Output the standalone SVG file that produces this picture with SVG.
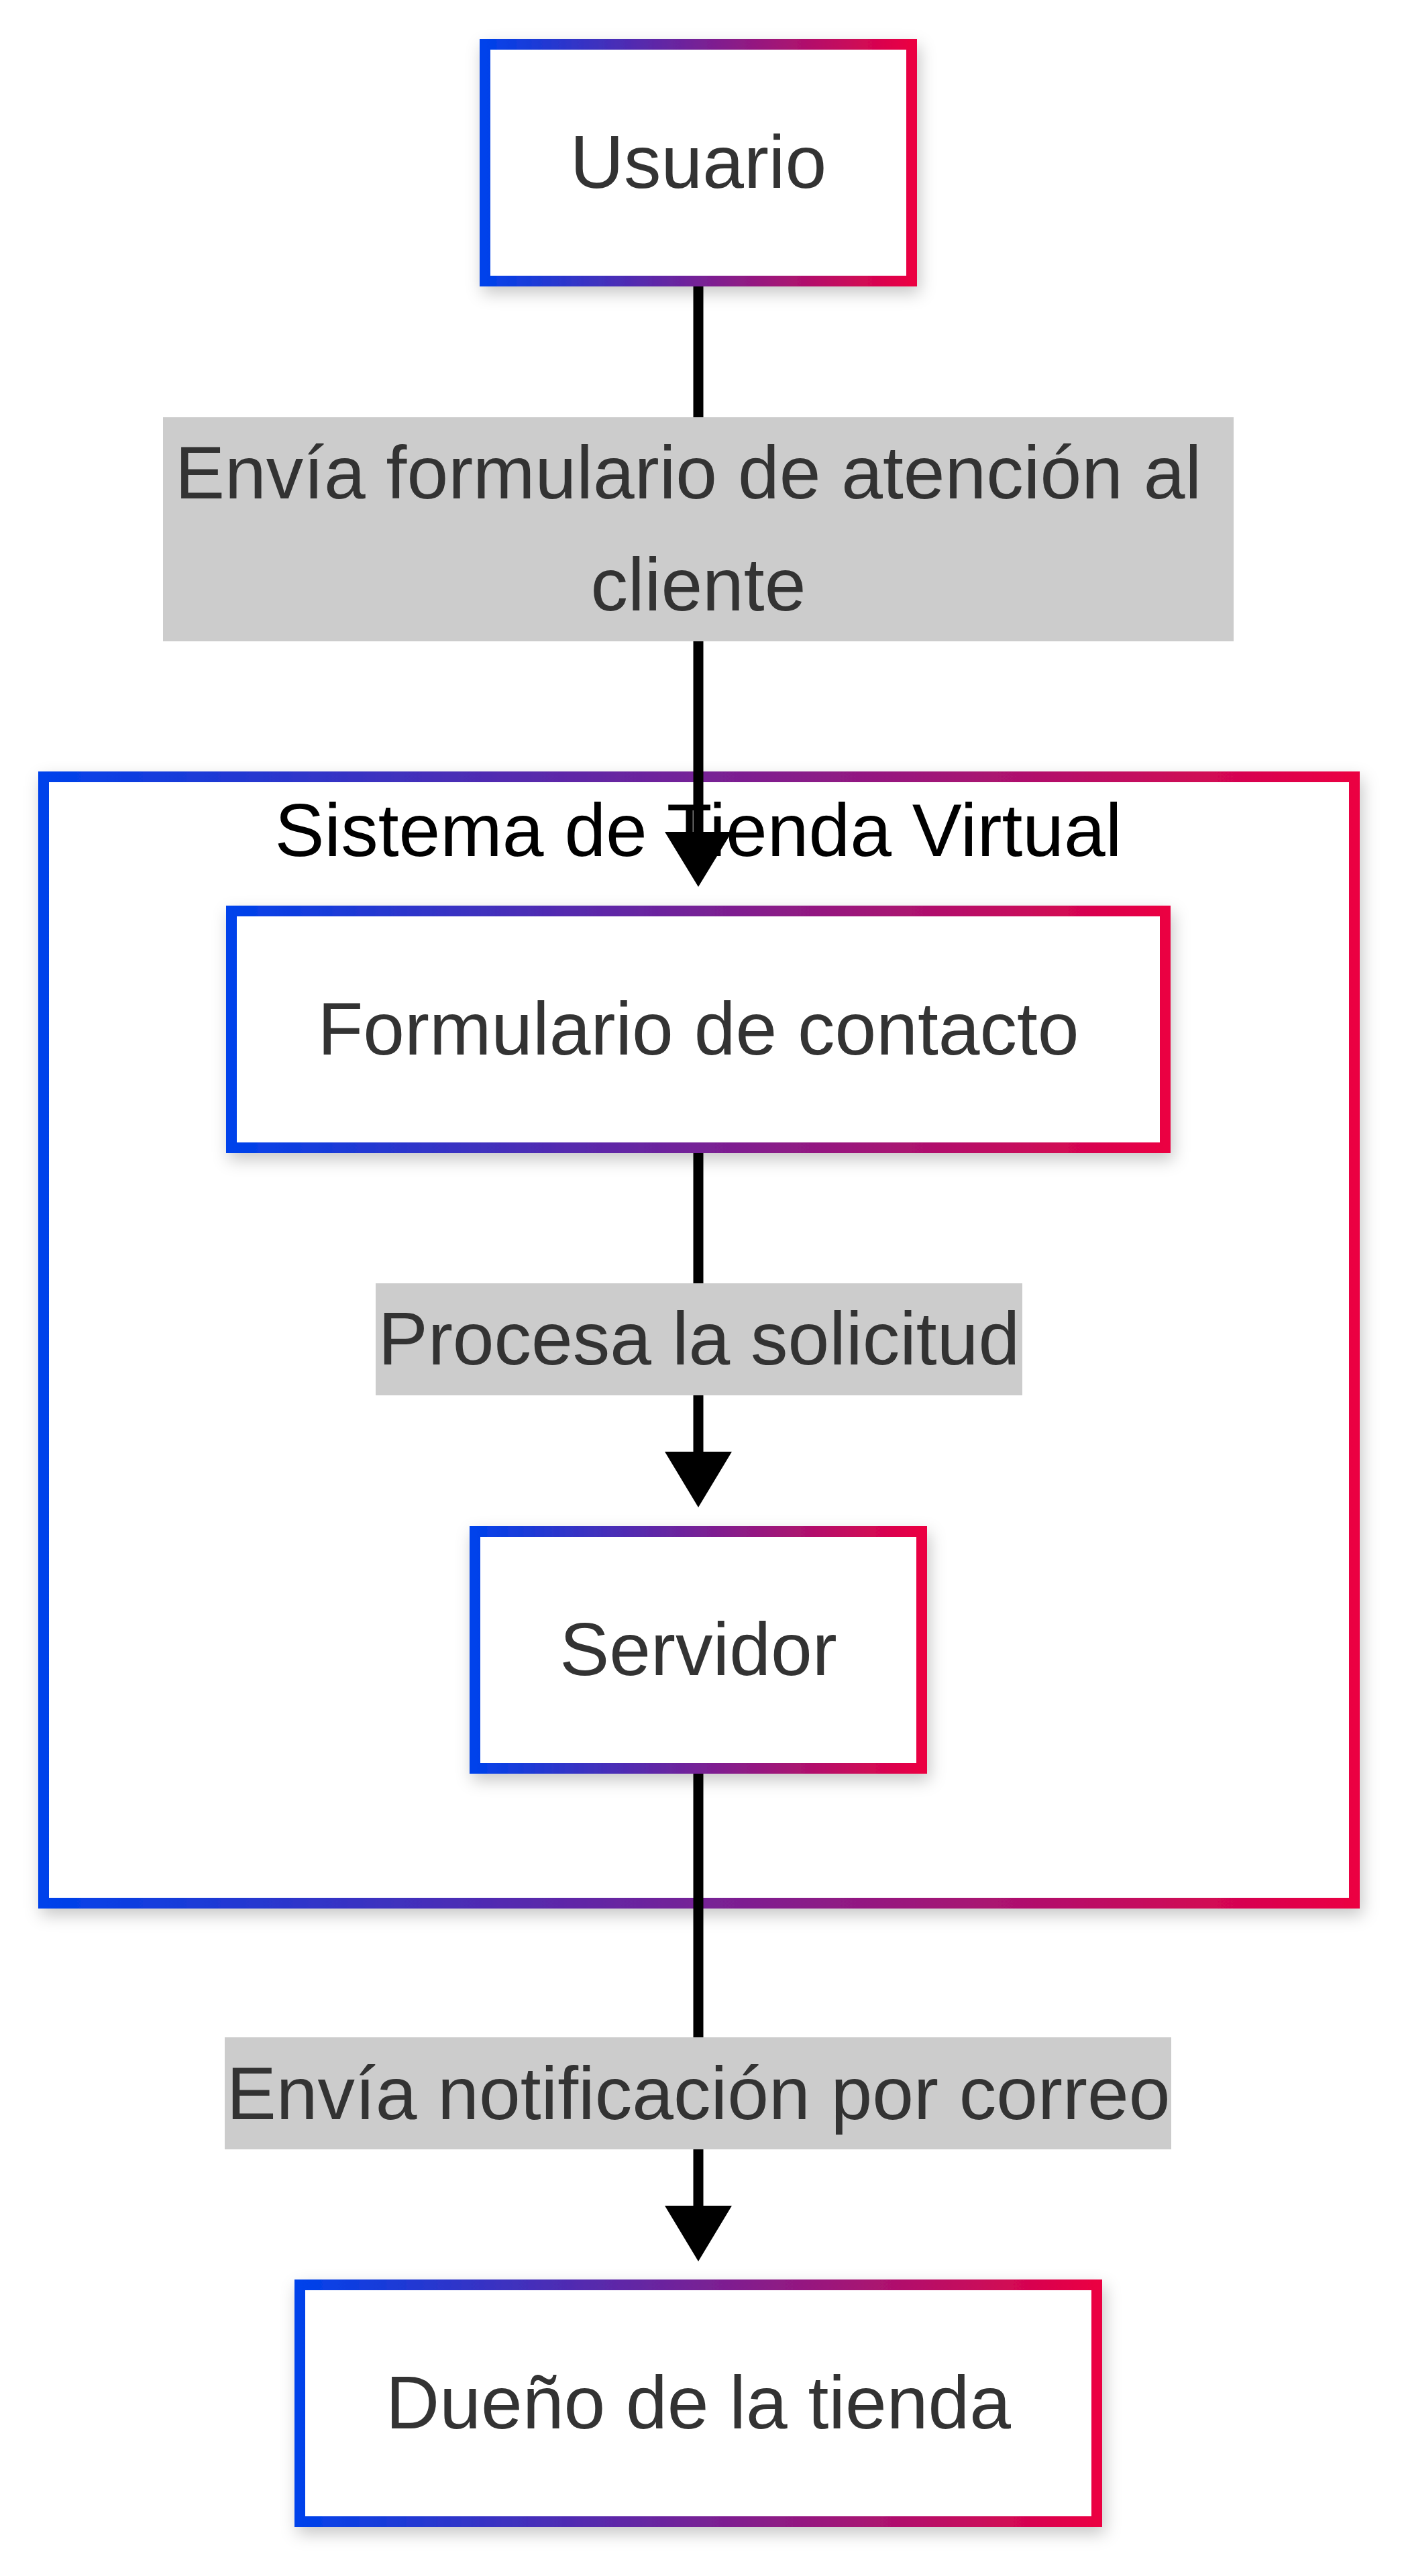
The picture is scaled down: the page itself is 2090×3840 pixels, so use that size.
<svg xmlns="http://www.w3.org/2000/svg" width="2090" height="3840" viewBox="0 0 2090 3840">
<style>
.node rect{fill:#ffffff;stroke:url(#grad);stroke-width:16;filter:url(#shadow)}
.cluster rect{fill:#ffffff;stroke:url(#grad);stroke-width:16;filter:url(#shadow)}
.ntext{font-family:"Liberation Sans",Arial,sans-serif;font-size:111px;fill:#333333;text-anchor:middle}
.ctext{font-family:"Liberation Sans",Arial,sans-serif;font-size:111px;fill:#000000;text-anchor:middle}
.edge{stroke:#000000;stroke-width:15;fill:none}
.arrow{fill:#000000}
.lbg{fill:#cccccc}
</style>
<defs>
<linearGradient id="grad" x1="0" y1="0" x2="1" y2="0">
<stop offset="0" stop-color="#0042eb"/>
<stop offset="1" stop-color="#eb0042"/>
</linearGradient>
<filter id="shadow" x="-10%" y="-10%" width="120%" height="130%">
<feDropShadow dx="4" dy="10" stdDeviation="12" flood-color="#000000" flood-opacity="0.22"/>
</filter>
</defs>
<rect x="0" y="0" width="2090" height="3840" fill="#ffffff"/>
<g id="cluster-sistema" class="cluster">
<rect x="65" y="1158" width="1954" height="1679"/>
<text class="ctext" x="1041" y="1276">Sistema de Tienda Virtual</text>
</g>
<g id="edges">
<line class="edge" x1="1041" y1="427" x2="1041" y2="1245"/>
<polygon class="arrow" points="991,1240 1091,1240 1041,1322"/>
<line class="edge" x1="1041" y1="1719" x2="1041" y2="2168"/>
<polygon class="arrow" points="991,2164 1091,2164 1041,2247"/>
<line class="edge" x1="1041" y1="2644" x2="1041" y2="3292"/>
<polygon class="arrow" points="991,3288 1091,3288 1041,3371"/>
<g id="label-1">
<rect class="lbg" x="243" y="622" width="1596" height="334"/>
<text class="ntext" x="1026" y="743">Envía formulario de atención al</text>
<text class="ntext" x="1041" y="910">cliente</text>
</g>
<g id="label-2">
<rect class="lbg" x="560" y="1913" width="964" height="167"/>
<text class="ntext" x="1042" y="2034">Procesa la solicitud</text>
</g>
<g id="label-3">
<rect class="lbg" x="335" y="3037" width="1411" height="167"/>
<text class="ntext" x="1041" y="3159">Envía notificación por correo</text>
</g>
</g>
<g id="node-usuario" class="node">
<rect x="723" y="66" width="636" height="353"/>
<text class="ntext" x="1041" y="280">Usuario</text>
</g>
<g id="node-formulario" class="node">
<rect x="345" y="1358" width="1392" height="353"/>
<text class="ntext" x="1041" y="1572">Formulario de contacto</text>
</g>
<g id="node-servidor" class="node">
<rect x="708" y="2283" width="666" height="353"/>
<text class="ntext" x="1041" y="2497">Servidor</text>
</g>
<g id="node-dueno" class="node">
<rect x="447" y="3406" width="1188" height="353"/>
<text class="ntext" x="1041" y="3620">Dueño de la tienda</text>
</g>
</svg>
